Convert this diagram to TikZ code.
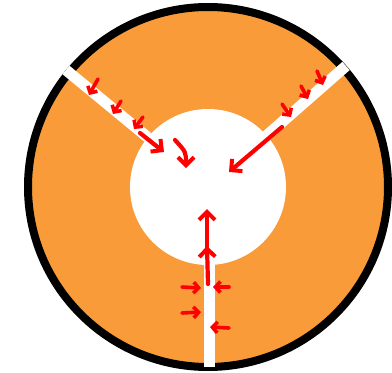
\documentclass[tikz,border=0pt]{standalone}
\usetikzlibrary{arrows.meta}
\definecolor{ring}{RGB}{249,155,56}
\definecolor{flux}{RGB}{255,0,0}
\tikzset{
  slot/.style={white,line width=11pt},
  bigarrow/.style={flux,line width=4.2pt,line cap=round,-{Straight Barb[length=8pt,width=16pt,line width=4pt]}},
  smallarrow/.style={flux,line width=3.6pt,line cap=round,-{Straight Barb[length=5pt,width=11pt,line width=3.6pt]}}
}
\begin{document}
\begin{tikzpicture}[x=1pt,y=-1pt]
\useasboundingbox (0,0) rectangle (392,373);
\coordinate (c) at (208,187);
% body
\fill[ring] (c) circle (180);
\draw[black,line width=8pt] (c) circle (180);
\fill[white] (c) circle (78);
% slots
\coordinate (ul) at (66,70);
\coordinate (ur) at (346,66);
\coordinate (bt) at (209,367);
\draw[slot] (c) -- (ul);
\draw[slot] (c) -- (ur);
\draw[slot] (209,187) -- (bt);
% upper-left channel arrows
\coordinate (a1s) at (98,79);  \coordinate (a1e) at (89,95);
\coordinate (a2s) at (121,101); \coordinate (a2e) at (113,114);
\coordinate (a3s) at (143,117); \coordinate (a3e) at (134,129);
\draw[smallarrow] (a1s) -- (a1e);
\draw[smallarrow] (a2s) -- (a2e);
\draw[smallarrow] (a3s) -- (a3e);
\coordinate (b1s) at (140,133); \coordinate (b1e) at (164,152);
\draw[bigarrow] (b1s) -- (b1e);
\coordinate (b2s) at (175,140); \coordinate (b2e) at (186,168);
\draw[bigarrow] (b2s) .. controls (186,152) .. (b2e);
% upper-right channel arrows
\coordinate (r1s) at (317,71);  \coordinate (r1e) at (323,85);
\coordinate (r2s) at (301,86);  \coordinate (r2e) at (308,99);
\coordinate (r3s) at (282,104); \coordinate (r3e) at (291,117);
\draw[smallarrow] (r1s) -- (r1e);
\draw[smallarrow] (r2s) -- (r2e);
\draw[smallarrow] (r3s) -- (r3e);
\coordinate (r4s) at (282,127); \coordinate (r4e) at (229,172);
\draw[bigarrow] (r4s) -- (r4e);
% bottom channel arrows
\coordinate (m1s) at (208,284); \coordinate (m1e) at (207,246);
\coordinate (m2s) at (207,250); \coordinate (m2e) at (207,209);
\draw[bigarrow] (m1s) -- (m1e);
\draw[bigarrow] (m2s) -- (m2e);
\coordinate (s1s) at (182,287); \coordinate (s1e) at (201,288);
\coordinate (s2s) at (229,287); \coordinate (s2e) at (213,287);
\coordinate (s3s) at (182,313); \coordinate (s3e) at (201,312);
\coordinate (s4s) at (229,328); \coordinate (s4e) at (210,327);
\draw[smallarrow] (s1s) -- (s1e);
\draw[smallarrow] (s2s) -- (s2e);
\draw[smallarrow] (s3s) -- (s3e);
\draw[smallarrow] (s4s) -- (s4e);
\end{tikzpicture}
\end{document}
